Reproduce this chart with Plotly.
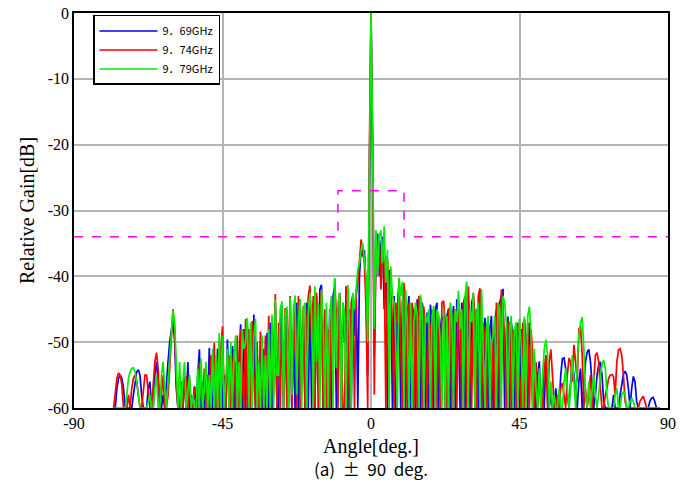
import plotly.graph_objects as go

# Angle grid: -78.0 deg to 87.5 deg, 0.5 deg step (10 values per row below)
ANGLE_START = -78.0
ANGLE_STEP = 0.5

GAIN_969 = [
    -60, -60, -57, -55.5, -55, -55.5, -57, -60, -60, -60,
    -60, -60, -58, -56, -54.5, -54.2, -55, -58, -60, -60,
    -60, -57, -56, -60, -60, -55, -53, -56, -60, -60,
    -58, -60, -56, -53, -50, -48, -46.5, -50, -57, -60,
    -60, -57, -60, -55, -60, -53, -60, -58, -60, -56.7,
    -60, -55, -51.1, -60, -56, -60, -54, -60, -50.9, -60,
    -60, -52, -60, -51, -58, -53, -60, -55, -60, -49.6,
    -60, -56, -50.6, -60, -53, -60, -52, -47.3, -60, -48,
    -60, -47, -60, -49, -58, -45.8, -60, -52, -60, -50,
    -60, -51, -60, -48.6, -60, -47, -60, -50, -44, -60,
    -60, -47, -44.5, -60, -52, -45, -60, -43.5, -60, -48,
    -60, -44, -60, -43.5, -56, -46, -60, -44, -60, -42.5,
    -60, -44, -60, -43, -55, -42, -41.3, -60, -50, -47.1,
    -60, -45, -60, -43, -41.5, -60, -46, -42.5, -60, -44,
    -50, -41.5, -60, -45, -60, -43, -49, -42, -60, -40,
    -35.5, -37, -36, -42, -55, -20, 0, -20, -52, -36,
    -33.5, -40, -35, -34, -45, -37, -60, -39, -42, -60,
    -43, -60, -45, -41, -60, -44, -42, -60, -46, -43,
    -60, -44.5, -46, -60, -43.5, -47, -60, -44, -45.5, -60,
    -45.5, -60, -44.3, -47, -60, -45, -44, -60, -48, -46,
    -47, -60, -46, -45, -60, -48, -44.5, -60, -43.5, -47,
    -60, -44, -46, -60, -42, -47, -60, -44, -43, -60,
    -45, -60, -42, -47, -60, -46.3, -49, -60, -48, -46,
    -60, -47, -45, -60, -44, -43, -41.9, -60, -48, -46.1,
    -60, -47, -49, -60, -47.1, -52, -60, -48, -60, -46.5,
    -50, -60, -47, -51, -60, -56, -60, -55, -52.9, -60,
    -57, -60, -52, -55, -60, -58, -60, -60, -57, -60,
    -60, -55, -52.5, -52.4, -54, -58, -60, -56, -53, -55,
    -58, -60, -56, -54, -60, -56, -53, -51.5, -51.1, -53,
    -56, -60, -58, -55, -53.5, -53, -55, -59, -60, -60,
    -60, -60, -60, -58, -60, -60, -60, -58, -56, -54.8,
    -54.4, -55, -57, -60, -57, -55.2, -56, -59, -60, -60,
    -60, -60, -60, -60, -60, -59, -58.5, -58.4, -59, -60,
    -60, -60,
]

GAIN_974 = [
    -60, -58, -55.5, -54.7, -55, -56.5, -60, -60, -60, -58,
    -60, -57, -55.5, -55, -56, -58, -60, -60, -57, -55,
    -55, -58, -60, -60, -56, -53, -51.6, -54, -60, -58,
    -55, -60, -60, -58, -54, -49, -45, -48, -56, -60,
    -60, -56, -60, -57, -55.2, -60, -55.5, -60, -60, -57,
    -57, -60, -53, -58, -60, -54, -60, -55, -60, -52,
    -55, -50.1, -60, -53, -60, -51, -47.6, -58, -60, -53,
    -52, -60, -54, -51, -60, -49, -60, -48, -56, -60,
    -46.5, -60, -48, -60, -46.8, -55, -60, -50, -60, -48.4,
    -52, -60, -49, -60, -46, -60, -50, -58, -42.7, -60,
    -47, -60, -46, -60, -44.8, -60, -49, -43, -60, -52,
    -45, -60, -43, -60, -50, -44.5, -60, -47, -43, -41.4,
    -50, -43, -60, -42.5, -60, -46, -42, -60, -45, -60,
    -48, -60, -44, -52, -40.4, -46, -60, -43, -50, -60,
    -60, -41.5, -47, -60, -44, -42.8, -60, -43, -41, -37,
    -34.4, -36, -38, -45, -60, -21, 0, -21, -58, -35,
    -36, -34.5, -42, -36, -38, -60, -37.5, -44, -39.5, -48,
    -60, -44, -47, -40.3, -52, -60, -41, -45, -60, -44,
    -45, -44, -60, -45, -60, -43, -46, -60, -44.6, -50,
    -60, -46, -48, -60, -45, -47, -60, -46, -60, -44,
    -43.7, -47, -60, -45, -44.8, -60, -46, -45, -60, -44,
    -46, -60, -44, -43, -60, -41.5, -48, -60, -42.5, -46,
    -60, -43, -41.8, -60, -47, -49, -60, -47, -51, -60,
    -48, -60, -44, -46, -60, -42, -45, -50, -60, -47,
    -47, -60, -48, -51, -60, -47, -55, -60, -47, -60,
    -55, -47, -60, -48, -52, -60, -53, -60, -56, -57,
    -60, -54, -52, -60, -53, -51.1, -55, -60, -60, -58,
    -60, -57, -56.2, -58, -60, -55, -52.4, -53, -56, -50.4,
    -53, -56, -48, -47.6, -52, -60, -57, -60, -58, -55,
    -60, -55, -52, -51.6, -53, -57, -60, -60, -58, -57,
    -55.5, -55, -54.9, -55.2, -58, -53, -51.2, -51, -52, -55,
    -59, -60, -60, -60, -60, -60, -60, -60, -60, -59,
    -58.5, -58.2, -59, -60, -60, -60, -60, -60, -60, -60,
    -60, -60,
]

GAIN_979 = [
    -60, -60, -60, -60, -60, -60, -60, -60, -58, -55.5,
    -54.5, -54, -53.9, -54.5, -56, -58, -60, -60, -60, -60,
    -60, -59, -58, -60, -60, -57, -55, -60, -60, -55,
    -53, -57, -60, -56, -52.7, -50, -45.2, -47, -55, -60,
    -53, -60, -56, -53, -60, -57, -55, -60, -58, -60,
    -60, -54, -60, -52.5, -60, -57, -53, -60, -55, -60,
    -51, -60, -52, -60, -48.6, -60, -49, -60, -56, -51,
    -60, -50, -60, -52, -49, -60, -53, -60, -48, -51,
    -50, -46.3, -60, -47, -60, -49, -46.5, -60, -53, -60,
    -49, -60, -52, -60, -48, -60, -45.8, -60, -43.5, -55,
    -55, -45, -43.8, -60, -46, -44.6, -60, -43.2, -58, -45,
    -42.9, -58, -47, -43.5, -60, -45, -44, -60, -46, -42.5,
    -46, -60, -41.5, -53, -44, -60, -42, -47, -60, -44,
    -60, -46, -43, -60, -40.2, -54, -44, -42.5, -60, -44,
    -46, -60, -41.3, -48, -60, -42.5, -45, -42, -39, -38,
    -36, -35, -38, -40, -50, -19, 0, -19, -48, -33,
    -40, -34, -33, -38, -32.4, -41, -36, -60, -38.5, -43,
    -44, -50, -60, -40.2, -43, -40.8, -60, -42, -47, -60,
    -44, -60, -47, -44, -46, -60, -42.8, -45, -60, -46,
    -47, -45, -60, -46, -44.5, -60, -45, -46, -50, -60,
    -45, -60, -46, -60, -44, -46, -60, -45, -47, -42.2,
    -48, -45, -60, -43, -40.8, -60, -45, -47, -42.5, -60,
    -46, -44, -60, -42, -50, -60, -48, -46, -60, -50,
    -49, -46, -60, -44, -45, -60, -43, -44, -47, -60,
    -48, -46, -60, -48, -47, -60, -46.5, -50, -60, -46.1,
    -60, -46, -44.6, -49, -60, -51, -57, -60, -54, -60,
    -55, -51, -49.6, -52, -60, -56, -60, -58, -60, -60,
    -57, -60, -60, -56, -54, -57, -60, -57, -52, -56,
    -60, -53, -49, -47, -46.2, -51, -58, -60, -56, -60,
    -57, -55, -58, -60, -58, -55, -53.5, -52.7, -54, -58,
    -60, -60, -60, -60, -58, -57, -60, -60, -58, -57.5,
    -58, -60, -60, -59, -58.5, -59, -60, -60, -60, -60,
    -60, -60, -60, -60, -60, -60, -60, -60, -60, -60,
    -60, -60,
]

SERIES_NAMES = ["9．69GHz", "9．74GHz", "9．79GHz"]
SERIES_COLORS = ["#0000ff", "#ff0000", "#00ee00"]

MASK_ANGLE = [-90, -10, -10, 10, 10, 90]
MASK_GAIN = [-34, -34, -27, -27, -34, -34]

X_TICKS = [-90, -45, 0, 45, 90]
Y_TICKS = [0, -10, -20, -30, -40, -50, -60]

SUBTITLE = "(a)\u00a0\u00a0±\u00a0\u00a090\u00a0\u00a0deg."

SERIF = "Liberation Serif, Times New Roman, serif"
GOTHIC = "'Noto Sans CJK JP', sans-serif"

fig = go.Figure()
for name, color, gains in zip(SERIES_NAMES, SERIES_COLORS,
                              [GAIN_969, GAIN_974, GAIN_979]):
    angles = [ANGLE_START + ANGLE_STEP * i for i in range(len(gains))]
    fig.add_trace(go.Scatter(x=angles, y=gains, mode="lines", name=name,
                             line=dict(color=color, width=1.7)))

fig.add_trace(go.Scatter(x=MASK_ANGLE, y=MASK_GAIN, mode="lines",
                         showlegend=False,
                         line=dict(color="#ff00ff", width=1.5, dash="dash")))

fig.update_layout(
    width=688, height=490,
    margin=dict(l=74, r=20, t=13, b=82, autoexpand=False),
    paper_bgcolor="white", plot_bgcolor="white",
    showlegend=True,
    legend=dict(x=0.032, y=0.995, xanchor="left", yanchor="top",
                bgcolor="white", bordercolor="black", borderwidth=1.5,
                font=dict(family=GOTHIC, size=11, color="black"),
                itemwidth=58, tracegroupgap=0),
    font=dict(family=SERIF, color="black"),
)
fig.update_xaxes(range=[-90, 90], tickvals=X_TICKS,
                 ticktext=[str(v) for v in X_TICKS],
                 showgrid=True, gridcolor="#b4b4b4", gridwidth=1.5,
                 zeroline=False, showline=True, linecolor="black",
                 linewidth=1.5, mirror=True, ticks="", automargin=False,
                 tickfont=dict(family=SERIF, size=16),
                 title=dict(text="Angle[deg.]", font=dict(family=SERIF, size=20),
                            standoff=8))
fig.update_yaxes(range=[-60, 0], tickvals=Y_TICKS,
                 ticktext=[str(v) for v in Y_TICKS],
                 showgrid=True, gridcolor="#b4b4b4", gridwidth=1.5,
                 zeroline=False, showline=True, linecolor="black",
                 linewidth=1.5, mirror=True, ticks="", automargin=False,
                 tickfont=dict(family=SERIF, size=16),
                 title=dict(text="Relative Gain[dB]", font=dict(family=SERIF, size=20),
                            standoff=8))
fig.add_annotation(text=SUBTITLE, xref="paper", yref="paper",
                   x=0.5, y=-0.152, xanchor="center", yanchor="middle",
                   showarrow=False, font=dict(family=GOTHIC, size=17, color="black"))

# remove the browser's default 8px body margin so the figure fills the window
fig.write_html("out.html",
               config={"displayModeBar": False},
               post_script="document.body.style.margin='0';"
                           "document.body.style.overflow='hidden';")
